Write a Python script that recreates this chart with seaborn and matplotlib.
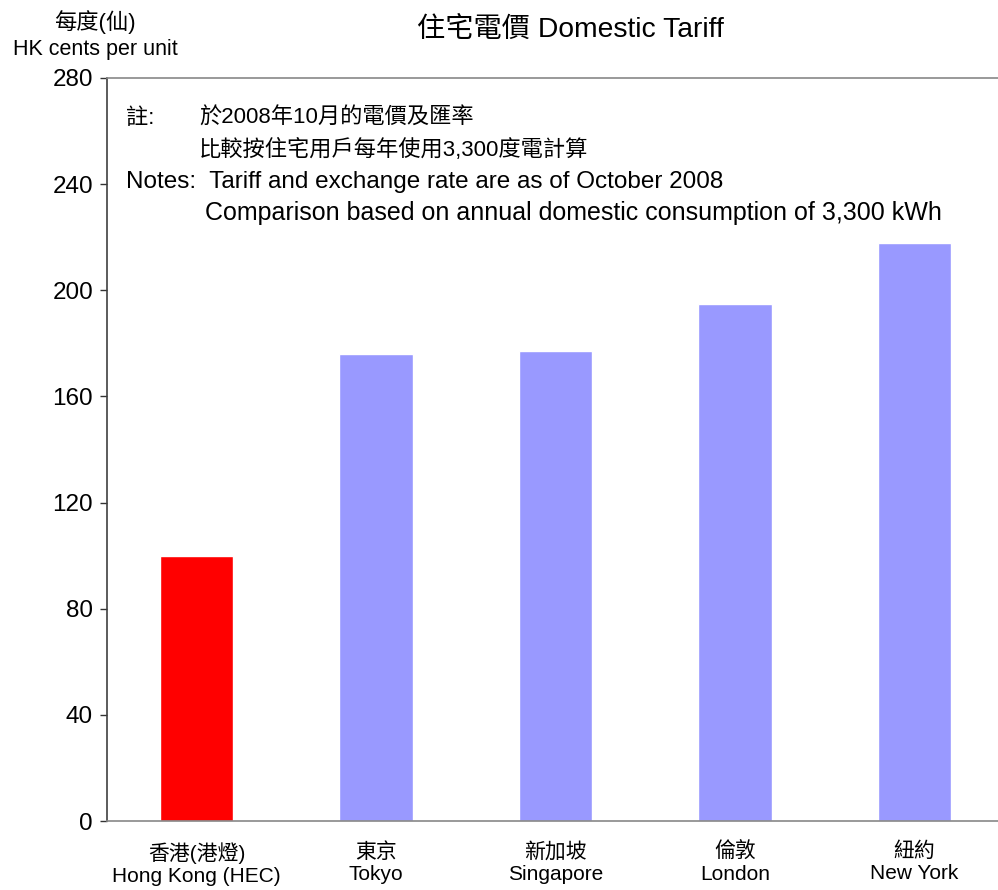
import matplotlib
matplotlib.use("Agg")
import matplotlib.pyplot as plt
import pandas as pd
import seaborn as sns

# ─── data ─────────────────────────────────────────────────────────────────────
cities_zh = ["香港(港燈)", "東京", "新加坡", "倫敦", "紐約"]
cities_en = ["Hong Kong (HEC)", "Tokyo", "Singapore", "London", "New York"]
tariff    = [100, 176, 177, 195, 218]
bar_colors = ["#FF0000", "#9999FF", "#9999FF", "#9999FF", "#9999FF"]
y_ticks   = [0, 40, 80, 120, 160, 200, 240, 280]

labels = [f"{zh}\n{en}" for zh, en in zip(cities_zh, cities_en)]
df = pd.DataFrame({"city": labels, "tariff": tariff})

# ─── style ────────────────────────────────────────────────────────────────────
sns.set_style("white")
plt.rcParams["font.family"] = ["Liberation Sans", "Noto Sans CJK TC", "DejaVu Sans"]
plt.rcParams["text.color"] = "black"
plt.rcParams["xtick.labelcolor"] = "black"
plt.rcParams["ytick.labelcolor"] = "black"

W, H = 998, 890
fig = plt.figure(figsize=(W / 100, H / 100), dpi=100)
ax = fig.add_axes([107 / W, (H - 821) / H, 897 / W, (821 - 78) / H])

sns.barplot(data=df, x="city", y="tariff", hue="city",
            palette=dict(zip(labels, bar_colors)), width=0.41,
            saturation=1, legend=False, ax=ax)

ax.set_xlim(-0.5, 4.5)
ax.set_ylim(0, 280)
ax.set_yticks(y_ticks)
ax.set_xlabel("")
ax.set_ylabel("")
ax.tick_params(axis="y", direction="out", length=5, width=1, color="#333333",
               labelsize=17.5, pad=5, left=True)
ax.tick_params(axis="x", length=0, labelsize=15, pad=15)
for lbl in ax.get_xticklabels():
    lbl.set_linespacing(1.2)

ax.spines["left"].set_color("#404040")
ax.spines["top"].set_color("#888888")
ax.spines["bottom"].set_color("#888888")
ax.spines["right"].set_visible(False)
for s in ("left", "top", "bottom"):
    ax.spines[s].set_linewidth(1.2)

# ─── texts ────────────────────────────────────────────────────────────────────
def px(x, y):
    return x / W, 1 - y / H

fig.text(*px(570, 30), "住宅電價 Domestic Tariff", ha="center", va="center", fontsize=20.3)
fig.text(*px(95, 22), "每度(仙)", ha="center", va="center", fontsize=16)
fig.text(*px(95, 50), "HK cents per unit", ha="center", va="center", fontsize=15.5)

fig.text(*px(126, 118), "註:", ha="left", va="center", fontsize=16)
fig.text(*px(199, 118), "於2008年10月的電價及匯率", ha="left", va="center", fontsize=16)
fig.text(*px(199, 150), "比較按住宅用戶每年使用3,300度電計算", ha="left", va="center", fontsize=16)
fig.text(*px(126, 182), "Notes:  Tariff and exchange rate are as of October 2008",
         ha="left", va="center", fontsize=17.5)
fig.text(*px(205, 213), "Comparison based on annual domestic consumption of 3,300 kWh",
         ha="left", va="center", fontsize=18)

fig.savefig("out.png", dpi=100)
